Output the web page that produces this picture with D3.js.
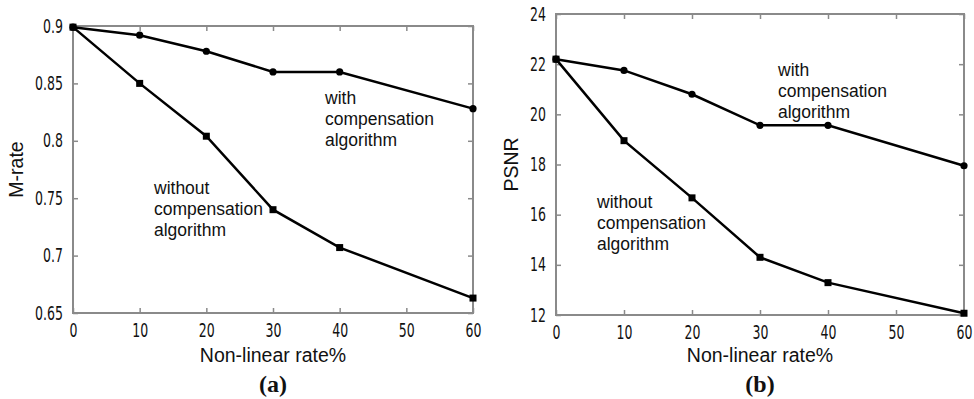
<!DOCTYPE html>
<html>
<head>
<meta charset="utf-8">
<script src="https://cdn.jsdelivr.net/npm/d3@7"></script>
<style>
  body { margin: 0; background: #fff; }
  svg { display: block; }
  .tick text { font-family: "DejaVu Sans", sans-serif; font-size: 19px; fill: #111; }
  .lbl { font-family: "Liberation Sans", Arial, sans-serif; font-size: 19.5px; fill: #111; }
  .note { font-family: "Liberation Sans", Arial, sans-serif; font-size: 17.5px; fill: #111; }
  .cap { font-family: "Liberation Serif", "Times New Roman", serif; font-size: 24px; font-weight: bold; fill: #111; }
</style>
</head>
<body>
<svg id="chart" width="974" height="399"></svg>
<script>
// x values shared by both panels
const rates = [0, 10, 20, 30, 40, 60];
const xTicks = [0, 10, 20, 30, 40, 50, 60];

// panel (a): M-rate
const mrateWith = [0.899, 0.892, 0.878, 0.860, 0.860, 0.828];
const mrateWithout = [0.899, 0.850, 0.804, 0.740, 0.707, 0.663];
const mrateTicks = [0.65, 0.7, 0.75, 0.8, 0.85, 0.9];

// panel (b): PSNR
const psnrWith = [22.2, 21.75, 20.8, 19.56, 19.56, 17.95];
const psnrWithout = [22.2, 18.95, 16.67, 14.3, 13.29, 12.07];
const psnrTicks = [12, 14, 16, 18, 20, 22, 24];

const svg = d3.select('#chart');
const narrow = 0.66; // squeeze tick digits like the original narrow font

function panel(opts) {
  const x = d3.scaleLinear().domain([0, 60]).range(opts.xr);
  const y = d3.scaleLinear().domain(opts.yd).range(opts.yr);
  const g = svg.append('g');
  const axisColor = '#8a8a8a';

  // box
  g.append('rect')
      .attr('x', opts.xr[0]).attr('y', opts.yr[1])
      .attr('width', opts.xr[1] - opts.xr[0])
      .attr('height', opts.yr[0] - opts.yr[1])
      .attr('fill', 'none').attr('stroke', axisColor).attr('stroke-width', 2);

  // bottom axis, ticks inside
  const bx = g.append('g')
      .attr('transform', `translate(0,${opts.yr[0]})`)
      .call(d3.axisBottom(x).tickValues(xTicks).tickSize(-5).tickPadding(11).tickFormat(d3.format('d')));
  const lx = g.append('g')
      .attr('transform', `translate(${opts.xr[0]},0)`)
      .call(d3.axisLeft(y).tickValues(opts.yt).tickSize(-5).tickPadding(10 / narrow).tickFormat(opts.fmt));
  // top / right ticks
  const tx = g.append('g')
      .attr('transform', `translate(0,${opts.yr[1]})`)
      .call(d3.axisTop(x).tickValues(xTicks).tickSize(-5).tickFormat(''));
  const rx = g.append('g')
      .attr('transform', `translate(${opts.xr[1]},0)`)
      .call(d3.axisRight(y).tickValues(opts.yt).tickSize(-5).tickFormat(''));
  [bx, lx, tx, rx].forEach(a => {
    a.select('.domain').remove();
    a.selectAll('line').attr('stroke', axisColor).attr('stroke-width', 1.5);
  });
  bx.selectAll('text').attr('dy', '0.71em');
  bx.selectAll('text').attr('transform', `scale(${narrow},1)`);
  lx.selectAll('text').attr('transform', `scale(${narrow},1)`);

  const line = d3.line().x((d, i) => x(rates[i])).y(d => y(d));

  g.append('path').datum(opts.without)
      .attr('d', line).attr('fill', 'none').attr('stroke', '#000').attr('stroke-width', 2.5);
  g.append('path').datum(opts.with)
      .attr('d', line).attr('fill', 'none').attr('stroke', '#000').attr('stroke-width', 2.5);

  g.selectAll('.sq').data(opts.without).join('rect')
      .attr('x', (d, i) => x(rates[i]) - 3.5).attr('y', d => y(d) - 3.5)
      .attr('width', 7).attr('height', 7).attr('fill', '#000');
  g.selectAll('.dot').data(opts.with).join('circle')
      .attr('cx', (d, i) => x(rates[i])).attr('cy', d => y(d))
      .attr('r', 3.6).attr('fill', '#000');

  const xm = (opts.xr[0] + opts.xr[1]) / 2;
  g.append('text').attr('class', 'lbl').attr('x', xm).attr('y', 362)
      .attr('text-anchor', 'middle').text('Non-linear rate%');
  g.append('text').attr('class', 'cap').attr('x', xm).attr('y', 392)
      .attr('text-anchor', 'middle').text(opts.cap);
  g.append('text').attr('class', 'lbl')
      .attr('transform', `translate(${opts.ylx},${(opts.yr[0] + opts.yr[1]) / 2}) rotate(-90)`)
      .attr('text-anchor', 'middle').text(opts.ylabel);

  [[opts.noteWith, ['with', 'compensation', 'algorithm']],
   [opts.noteWithout, ['without', 'compensation', 'algorithm']]].forEach(([pos, lines]) => {
    g.append('text').attr('class', 'note')
        .selectAll('tspan').data(lines).join('tspan')
        .attr('x', pos[0]).attr('y', (d, i) => pos[1] + i * 21)
        .text(d => d);
  });
}

panel({
  xr: [73, 473], yd: [0.65, 0.9], yr: [313, 26], yt: mrateTicks,
  fmt: d => String(d), with: mrateWith, without: mrateWithout,
  ylabel: 'M-rate', ylx: 23, cap: '(a)',
  noteWith: [325, 104], noteWithout: [154, 194]
});

panel({
  xr: [556, 964], yd: [12, 24], yr: [315, 14], yt: psnrTicks,
  fmt: d3.format('d'), with: psnrWith, without: psnrWithout,
  ylabel: 'PSNR', ylx: 518, cap: '(b)',
  noteWith: [778, 76], noteWithout: [597, 208]
});
</script>
</body>
</html>
